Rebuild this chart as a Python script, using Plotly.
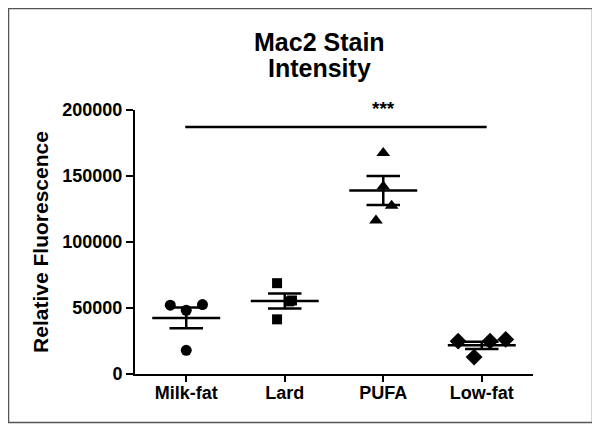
import plotly.graph_objects as go

# ---- data ----
categories = ["Milk-fat", "Lard", "PUFA", "Low-fat"]
milk_fat = [52100, 48300, 52600, 17900]
lard = [68800, 55700, 55000, 41400]
pufa = [167500, 142000, 127400, 116200]
low_fat = [24900, 12800, 24900, 26200]
group_means = [42500, 55300, 139000, 21700]
group_sems = [7900, 5700, 11000, 2800]
sig_level = 187200
sig_label = "***"
y_ticks = [0, 50000, 100000, 150000, 200000]

# horizontal scatter offsets of the individual points (layout, not data)
jitter = [
    [-0.162, 0.0, 0.165, 0.0],
    [-0.078, 0.074, 0.045, -0.078],
    [0.0, 0.0, 0.085, -0.074],
    [-0.24, -0.078, 0.084, 0.243],
]

groups = [milk_fat, lard, pufa, low_fat]
symbols = ["circle", "square", "triangle-up", "diamond"]
sizes = [11, 10, 12, 13]

FONT = "Arial, Liberation Sans, Helvetica, sans-serif"
# page body has an 8px margin -> figure drawn from (8,8)
OFF = 8
W, H = 600 - OFF, 429 - OFF
L, R, T, B = 135 - OFF, 67, 110 - OFF, 55
PW, PH = W - L - R, H - T - B


def px_x(x):  # screen px -> paper
    return (x - OFF - L) / PW


def px_y(y):  # screen px (from top) -> paper
    return (H - (y - OFF) - B) / PH


fig = go.Figure()

for i, (vals, sym, sz) in enumerate(zip(groups, symbols, sizes)):
    fig.add_trace(go.Scatter(
        x=[i + j for j in jitter[i]], y=vals, mode="markers",
        marker=dict(symbol=sym, size=sz, color="black", line=dict(width=0)),
        cliponaxis=False, showlegend=False, hoverinfo="skip"))

mean_hw, cap_hw = 0.345, 0.17
mx, my, ex, ey = [], [], [], []
for i, (m, s) in enumerate(zip(group_means, group_sems)):
    mx += [i - mean_hw, i + mean_hw, None]
    my += [m, m, None]
    ex += [i - cap_hw, i + cap_hw, None, i, i, None, i - cap_hw, i + cap_hw, None]
    ey += [m + s, m + s, None, m + s, m - s, None, m - s, m - s, None]

fig.add_trace(go.Scatter(x=mx, y=my, mode="lines", line=dict(color="black", width=2.5),
                         showlegend=False, hoverinfo="skip", cliponaxis=False))
fig.add_trace(go.Scatter(x=ex, y=ey, mode="lines", line=dict(color="black", width=2.5),
                         showlegend=False, hoverinfo="skip", cliponaxis=False))

# significance bar
fig.add_trace(go.Scatter(x=[-0.01, 3.05], y=[sig_level, sig_level], mode="lines",
                         line=dict(color="black", width=2.5), showlegend=False,
                         hoverinfo="skip", cliponaxis=False))
fig.add_annotation(x=2, y=sig_level, xref="x", yref="y", text=sig_label,
                   showarrow=False, yanchor="bottom", yshift=6,
                   font=dict(family=FONT, size=19, color="black", weight="bold"))

# title (two lines, tight spacing)
fig.add_annotation(x=px_x(319), y=px_y(42), xref="paper", yref="paper", text="Mac2 Stain",
                   xanchor="center", yanchor="middle", showarrow=False,
                   font=dict(family=FONT, size=25, color="black", weight="bold"))
fig.add_annotation(x=px_x(319), y=px_y(68), xref="paper", yref="paper", text="Intensity",
                   xanchor="center", yanchor="middle", showarrow=False,
                   font=dict(family=FONT, size=25, color="black", weight="bold"))

fig.update_layout(
    width=W, height=H,
    margin=dict(l=L, r=R, t=T, b=B),
    paper_bgcolor="white", plot_bgcolor="white",
    font=dict(family=FONT, color="black"),
    shapes=[dict(type="rect", xref="paper", yref="paper",
                 x0=px_x(8.5), x1=px_x(592.5), y0=px_y(422.5), y1=px_y(8.5),
                 line=dict(color="#555555", width=1.5), layer="below")],
)
fig.update_xaxes(
    range=[-0.52, 3.52], tickvals=list(range(len(categories))), ticktext=categories,
    showgrid=False, zeroline=False, showline=True, linecolor="black", linewidth=2,
    ticks="outside", ticklen=6, tickwidth=2, tickcolor="black", ticklabelstandoff=-5,
    tickfont=dict(family=FONT, size=18, color="black", weight="bold"),
)
fig.update_yaxes(
    range=[0, 200000], tickvals=y_ticks, tickformat="d",
    showgrid=False, zeroline=False, showline=True, linecolor="black", linewidth=2,
    ticks="outside", ticklen=7, tickwidth=2, tickcolor="black",
    tickfont=dict(family=FONT, size=18, color="black", weight="bold"),
    title=dict(text="Relative Fluorescence", standoff=8,
               font=dict(family=FONT, size=21, color="black", weight="bold")),
)

fig.write_html("out.html")
